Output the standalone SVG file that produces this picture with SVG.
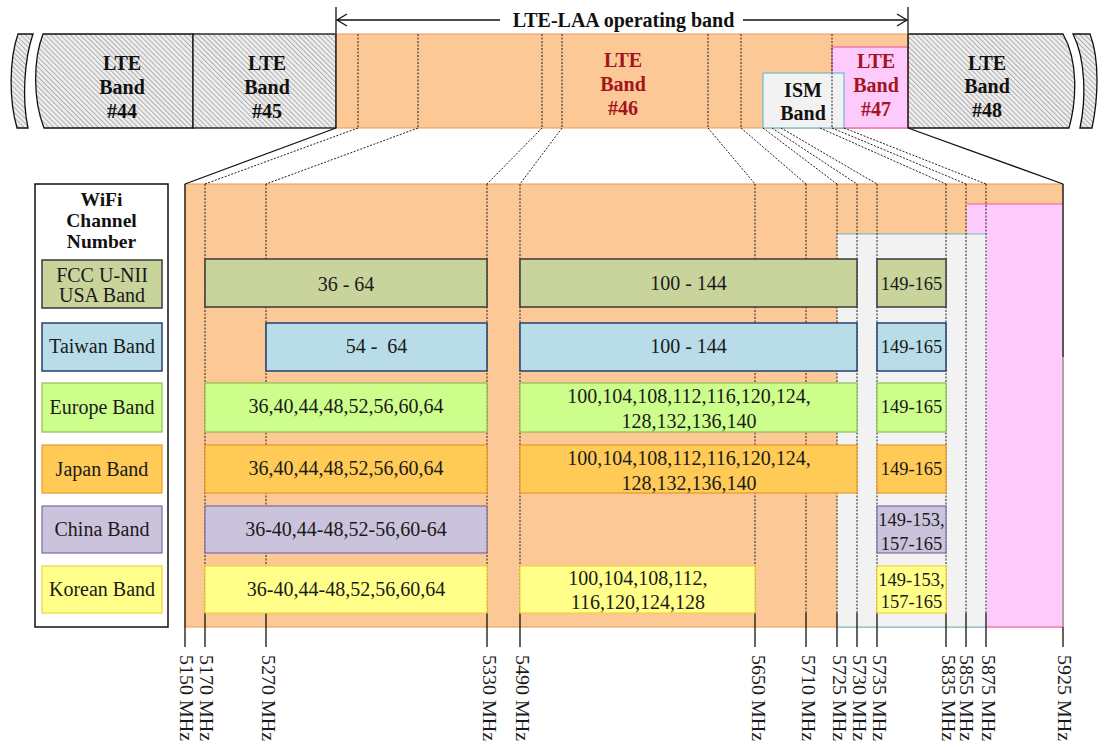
<svg xmlns="http://www.w3.org/2000/svg" width="1119" height="748" viewBox="0 0 1119 748">
<defs>
<pattern id="hatch" width="3.5" height="3.5" patternUnits="userSpaceOnUse" patternTransform="rotate(-45)">
<rect width="3.5" height="3.5" fill="#eeeeee"/>
<line x1="0.5" y1="0" x2="0.5" y2="3.5" stroke="#a8a8a8" stroke-width="0.9"/>
</pattern>
</defs>
<style>
text{font-family:"Liberation Serif","Times New Roman",serif;}
.b{font-weight:bold;font-size:20px;text-anchor:middle;fill:#111}
.red{fill:#a3141c}
.lt{font-size:20px;text-anchor:middle;fill:#1a1a1a}
.sm{font-size:18.5px}
.fq{font-size:18px;fill:#1a1a1a}
.dash{stroke:#222;stroke-width:1;stroke-dasharray:2 1.5;fill:none}
.sol{stroke:#111;stroke-width:1.3;fill:none}
.hb{fill:url(#hatch);stroke:#111;stroke-width:1.3}
.fcc{fill:#c9d49d;stroke:#3a3a3a;stroke-width:1.5}
.tw{fill:#b8dce8;stroke:#24406e;stroke-width:1.5}
.eu{fill:#cdfe8c;stroke:#8fbf55;stroke-width:1.2}
.jp{fill:#ffca55;stroke:#e8982c;stroke-width:1.2}
.cn{fill:#cbc3dc;stroke:#7d6aa6;stroke-width:1.2}
.kr{fill:#ffff8a;stroke:#f2d23c;stroke-width:1.2}
</style>
<rect width="1119" height="748" fill="#ffffff"/>

<g id="arrow">
<line x1="336" y1="7" x2="336" y2="34" class="sol"/>
<line x1="908" y1="7" x2="908" y2="34" class="sol"/>
<line x1="337" y1="20" x2="500" y2="20" class="sol"/>
<line x1="743" y1="20" x2="907" y2="20" class="sol"/>
<polyline points="347,14 337,20 347,26" class="sol"/>
<polyline points="897,14 907,20 897,26" class="sol"/>
<text x="623.5" y="27" class="b">LTE-LAA operating band</text>
</g>

<g id="band-44">
<path d="M18,34 L33,34 C24,60 22,100 28,128 L17,128 C9,100 9,60 18,34 Z" class="hb"/>
<path d="M43,34 L193,34 L193,128 L44,128 C33,100 33,60 43,34 Z" class="hb"/>
<text x="122" y="70" class="b">LTE</text>
<text x="122" y="94" class="b">Band</text>
<text x="122" y="118" class="b">#44</text>
</g>
<g id="band-45">
<rect x="193" y="34" width="143" height="94" class="hb"/>
<text x="267" y="70" class="b">LTE</text>
<text x="267" y="94" class="b">Band</text>
<text x="267" y="118" class="b">#45</text>
</g>
<g id="band-48">
<path d="M908,34 L1063,34 C1078,60 1077,100 1069,128 L908,128 Z" class="hb"/>
<path d="M1073,34 L1090,34 C1100,60 1098,100 1092,128 L1080,128 C1086,100 1086,60 1073,34 Z" class="hb"/>
<text x="987" y="70" class="b">LTE</text>
<text x="987" y="93" class="b">Band</text>
<text x="987" y="117" class="b">#48</text>
</g>
<g id="band-46">
<rect x="336" y="34" width="572" height="94" fill="#fbc896" stroke="#e89a5a" stroke-width="1"/>
<line x1="336" y1="34" x2="336" y2="128" class="sol"/>
<text x="623" y="67" class="b red">LTE</text>
<text x="623" y="91" class="b red">Band</text>
<text x="623" y="115" class="b red">#46</text>
</g>
<g id="band-47">
<rect x="832" y="47" width="76" height="81" fill="#fccafb" stroke="#ee5fa5" stroke-width="1.2"/>
<text x="876" y="68" class="b red">LTE</text>
<text x="876" y="92" class="b red">Band</text>
<text x="876" y="116" class="b red">#47</text>
</g>
<g id="ism-band">
<rect x="763" y="73" width="81" height="55" fill="#f2f2f2" stroke="#6fb8d2" stroke-width="1.2"/>
<text x="803" y="97" class="b">ISM</text>
<text x="803" y="120" class="b">Band</text>
</g>
<g id="top-dividers">
<line x1="358" y1="34" x2="358" y2="128" class="dash"/>
<line x1="418" y1="34" x2="418" y2="128" class="dash"/>
<line x1="542" y1="34" x2="542" y2="128" class="dash"/>
<line x1="562" y1="34" x2="562" y2="128" class="dash"/>
<line x1="708" y1="34" x2="708" y2="128" class="dash"/>
<line x1="741" y1="34" x2="741" y2="128" class="dash"/>
<line x1="832" y1="34" x2="832" y2="128" class="dash"/>
<line x1="908" y1="34" x2="908" y2="128" class="sol"/>
</g>

<g id="lower-area">
<rect x="185" y="184" width="878" height="443" fill="#fbc896" stroke="#e89a5a" stroke-width="1"/>
<rect x="967" y="204" width="96" height="423" fill="#fccafb"/>
<line x1="967" y1="204" x2="1063" y2="204" stroke="#ee5fa5" stroke-width="1.2"/>
<line x1="987" y1="627" x2="1063" y2="627" stroke="#ee5fa5" stroke-width="1.2"/>
<rect x="837" y="234" width="150" height="393" fill="#f2f2f2"/>
<line x1="837" y1="234" x2="987" y2="234" stroke="#6fb8d2" stroke-width="1.2"/>
<line x1="837" y1="627" x2="987" y2="627" stroke="#6fb8d2" stroke-width="1.2"/>
<line x1="1063" y1="357" x2="1063" y2="627" stroke="#777" stroke-width="1"/>
<line x1="1063" y1="184" x2="1063" y2="357" class="sol"/>
<line x1="185" y1="184" x2="185" y2="647" class="sol"/>
</g>

<g id="connectors">
<line x1="336" y1="128" x2="185" y2="184" class="sol"/>
<line x1="358" y1="128" x2="205" y2="184" class="dash"/>
<line x1="418" y1="128" x2="266" y2="184" class="dash"/>
<line x1="542" y1="128" x2="487" y2="184" class="dash"/>
<line x1="562" y1="128" x2="520" y2="184" class="dash"/>
<line x1="708" y1="128" x2="755" y2="184" class="dash"/>
<line x1="741" y1="128" x2="806" y2="184" class="dash"/>
<line x1="763" y1="128" x2="837" y2="184" class="dash"/>
<line x1="772" y1="128" x2="857" y2="184" class="dash"/>
<line x1="781" y1="128" x2="877" y2="184" class="dash"/>
<line x1="820" y1="128" x2="946" y2="184" class="dash"/>
<line x1="832" y1="128" x2="966" y2="184" class="dash"/>
<line x1="844" y1="128" x2="986" y2="184" class="dash"/>
<line x1="908" y1="128" x2="1063" y2="184" class="sol"/>
<g class="dash">
<line x1="205" y1="184" x2="205" y2="613"/>
<line x1="266" y1="184" x2="266" y2="613"/>
<line x1="487" y1="184" x2="487" y2="613"/>
<line x1="520" y1="184" x2="520" y2="613"/>
<line x1="755" y1="184" x2="755" y2="613"/>
<line x1="806" y1="184" x2="806" y2="613"/>
<line x1="837" y1="184" x2="837" y2="613"/>
<line x1="857" y1="184" x2="857" y2="613"/>
<line x1="877" y1="184" x2="877" y2="613"/>
<line x1="946" y1="184" x2="946" y2="613"/>
<line x1="966" y1="184" x2="966" y2="613"/>
<line x1="986" y1="184" x2="986" y2="613"/>
</g>
<g class="sol">
<line x1="205" y1="613" x2="205" y2="647"/>
<line x1="266" y1="613" x2="266" y2="647"/>
<line x1="487" y1="613" x2="487" y2="647"/>
<line x1="520" y1="613" x2="520" y2="647"/>
<line x1="755" y1="613" x2="755" y2="647"/>
<line x1="806" y1="613" x2="806" y2="647"/>
<line x1="837" y1="613" x2="837" y2="647"/>
<line x1="857" y1="613" x2="857" y2="647"/>
<line x1="877" y1="613" x2="877" y2="647"/>
<line x1="946" y1="613" x2="946" y2="647"/>
<line x1="966" y1="613" x2="966" y2="647"/>
<line x1="986" y1="613" x2="986" y2="647"/>
<line x1="1063" y1="627" x2="1063" y2="647"/>
</g>
</g>

<g id="legend">
<rect x="35" y="184" width="133" height="443" fill="#ffffff" stroke="#111" stroke-width="1.5"/>
<text x="101.5" y="206" class="b" style="font-size:19.5px">WiFi</text>
<text x="101.5" y="227" class="b" style="font-size:19.5px">Channel</text>
<text x="101.5" y="248" class="b" style="font-size:19.5px">Number</text>
<rect x="42" y="260" width="120" height="48" class="fcc"/>
<text x="102" y="282" class="lt">FCC U-NII</text>
<text x="102" y="302" class="lt">USA Band</text>
<rect x="42" y="323" width="120" height="48" class="tw"/>
<text x="102" y="353" class="lt">Taiwan Band</text>
<rect x="42" y="383" width="120" height="49" class="eu"/>
<text x="102" y="414" class="lt">Europe Band</text>
<rect x="42" y="445" width="120" height="48" class="jp"/>
<text x="102" y="476" class="lt">Japan Band</text>
<rect x="42" y="506" width="120" height="47" class="cn"/>
<text x="102" y="536" class="lt">China Band</text>
<rect x="42" y="566" width="120" height="47" class="kr"/>
<text x="102" y="596" class="lt">Korean Band</text>
</g>

<g id="row-fcc">
<rect x="205" y="259" width="282" height="48" class="fcc"/>
<text x="346" y="291" class="lt">36 - 64</text>
<rect x="520" y="259" width="337" height="48" class="fcc"/>
<text x="688.5" y="290" class="lt">100 - 144</text>
<rect x="877" y="259" width="69" height="48" class="fcc"/>
<text x="911.5" y="290" class="lt sm">149-165</text>
</g>
<g id="row-taiwan">
<rect x="266" y="323" width="221" height="48" class="tw"/>
<text x="376.5" y="353" class="lt" xml:space="preserve">54 -  64</text>
<rect x="520" y="323" width="337" height="48" class="tw"/>
<text x="688.5" y="353" class="lt">100 - 144</text>
<rect x="877" y="323" width="69" height="48" class="tw"/>
<text x="911.5" y="353" class="lt sm">149-165</text>
</g>
<g id="row-europe">
<rect x="205" y="383" width="282" height="49" class="eu"/>
<text x="346" y="413" class="lt">36,40,44,48,52,56,60,64</text>
<rect x="520" y="383" width="337" height="49" class="eu"/>
<text x="689" y="403" class="lt">100,104,108,112,116,120,124,</text>
<text x="689" y="428" class="lt">128,132,136,140</text>
<rect x="877" y="383" width="69" height="49" class="eu"/>
<text x="911.5" y="413" class="lt sm">149-165</text>
</g>
<g id="row-japan">
<rect x="205" y="445" width="282" height="48" class="jp"/>
<text x="346" y="475" class="lt">36,40,44,48,52,56,60,64</text>
<rect x="520" y="445" width="337" height="48" class="jp"/>
<text x="689" y="465" class="lt">100,104,108,112,116,120,124,</text>
<text x="689" y="490" class="lt">128,132,136,140</text>
<rect x="877" y="445" width="69" height="48" class="jp"/>
<text x="911.5" y="475" class="lt sm">149-165</text>
</g>
<g id="row-china">
<rect x="205" y="506" width="282" height="47" class="cn"/>
<text x="346" y="536" class="lt">36-40,44-48,52-56,60-64</text>
<rect x="877" y="506" width="69" height="47" class="cn"/>
<text x="911.5" y="526" class="lt sm">149-153,</text>
<text x="911.5" y="550" class="lt sm">157-165</text>
</g>
<g id="row-korea">
<rect x="205" y="566" width="282" height="47" class="kr"/>
<text x="346" y="596" class="lt">36-40,44-48,52,56,60,64</text>
<rect x="520" y="566" width="235" height="47" class="kr"/>
<text x="638" y="585" class="lt">100,104,108,112,</text>
<text x="638" y="609" class="lt">116,120,124,128</text>
<rect x="877" y="566" width="69" height="47" class="kr"/>
<text x="911.5" y="586" class="lt sm">149-153,</text>
<text x="911.5" y="608" class="lt sm">157-165</text>
</g>

<g id="freq-labels" class="fq">
<text transform="translate(180,655) rotate(90)" textLength="86" lengthAdjust="spacingAndGlyphs">5150 MHz</text>
<text transform="translate(200,655) rotate(90)" textLength="86" lengthAdjust="spacingAndGlyphs">5170 MHz</text>
<text transform="translate(262,655) rotate(90)" textLength="86" lengthAdjust="spacingAndGlyphs">5270 MHz</text>
<text transform="translate(483,655) rotate(90)" textLength="86" lengthAdjust="spacingAndGlyphs">5330 MHz</text>
<text transform="translate(516,655) rotate(90)" textLength="86" lengthAdjust="spacingAndGlyphs">5490 MHz</text>
<text transform="translate(752,655) rotate(90)" textLength="86" lengthAdjust="spacingAndGlyphs">5650 MHz</text>
<text transform="translate(802,655) rotate(90)" textLength="86" lengthAdjust="spacingAndGlyphs">5710 MHz</text>
<text transform="translate(833,655) rotate(90)" textLength="86" lengthAdjust="spacingAndGlyphs">5725 MHz</text>
<text transform="translate(853,655) rotate(90)" textLength="86" lengthAdjust="spacingAndGlyphs">5730 MHz</text>
<text transform="translate(873,655) rotate(90)" textLength="86" lengthAdjust="spacingAndGlyphs">5735 MHz</text>
<text transform="translate(942,655) rotate(90)" textLength="86" lengthAdjust="spacingAndGlyphs">5835 MHz</text>
<text transform="translate(960,655) rotate(90)" textLength="86" lengthAdjust="spacingAndGlyphs">5855 MHz</text>
<text transform="translate(982,655) rotate(90)" textLength="86" lengthAdjust="spacingAndGlyphs">5875 MHz</text>
<text transform="translate(1058,655) rotate(90)" textLength="86" lengthAdjust="spacingAndGlyphs">5925 MHz</text>
</g>
</svg>
